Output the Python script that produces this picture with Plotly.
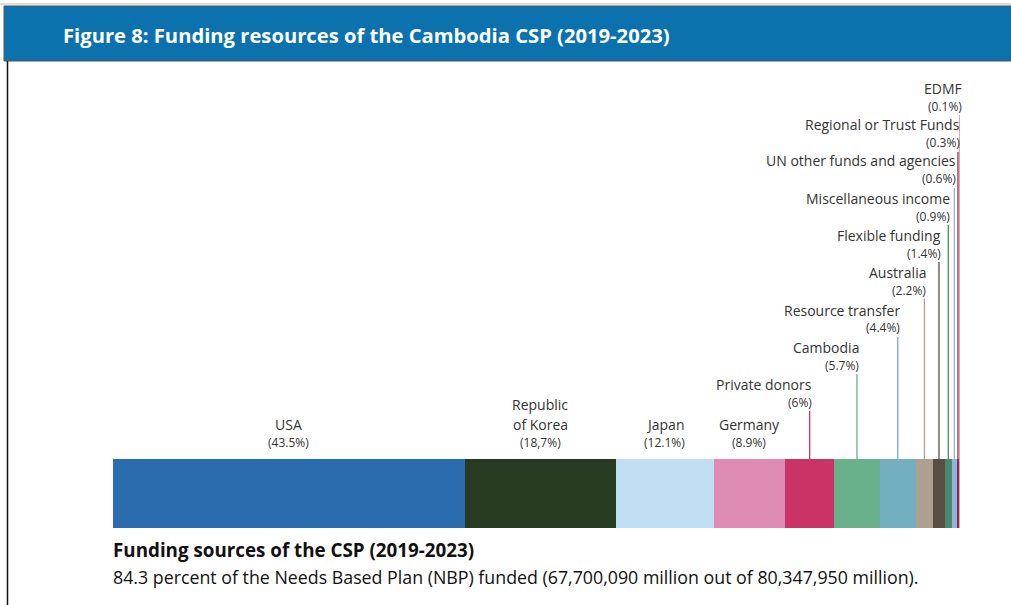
import plotly.graph_objects as go

# Funding sources and their shares of the CSP
sources = ["USA", "Republic of Korea", "Japan", "Germany", "Private donors", "Cambodia",
           "Resource transfer", "Australia", "Flexible funding", "Miscellaneous income",
           "UN other funds and agencies", "Regional or Trust Funds", "EDMF"]
shares = [43.5, 18.7, 12.1, 8.9, 6.0, 5.7, 4.4, 2.2, 1.4, 0.9, 0.6, 0.3, 0.1]
share_labels = ["(43.5%)", "(18,7%)", "(12.1%)", "(8.9%)", "(6%)", "(5.7%)", "(4.4%)",
                "(2.2%)", "(1.4%)", "(0.9%)", "(0.6%)", "(0.3%)", "(0.1%)"]
colors = ["#2b6caf", "#263b22", "#c0dff3", "#de8cb4", "#cb3366", "#68b18b", "#74aec1",
          "#ae9f90", "#5a4d41", "#4b8a6b", "#8fb5df", "#8b2c4c", "#eaa2ad"]

W, H = 1011, 605
X0, X1 = 113, 960          # bar pixel extent
BAR_TOP, BAR_BOT = 459, 528
NAME_SIZE, PCT_SIZE = 14, 12
text_col = "#333333"


def py(p):
    """pixel row -> paper y"""
    return 1 - p / H


def txt(x, ypx, text, size, anchor, xshift=0):
    return dict(x=x, y=py(ypx), xref="x", yref="paper", text=text, showarrow=False,
                font=dict(size=size, color=text_col), xanchor=anchor, yanchor="middle",
                xshift=xshift, borderpad=0, borderwidth=0)


total = sum(shares)
fig = go.Figure()
for name, v, c in zip(sources, shares, colors):
    fig.add_trace(go.Bar(y=[0], x=[v], orientation="h", name=name,
                         marker=dict(color=c, line=dict(width=0)), showlegend=False,
                         hoverinfo="name+x"))

# segment centres in data units
centres = []
acc = 0
for v in shares:
    centres.append(acc + v / 2)
    acc += v

ann = []
shapes = []

# labels sitting directly above the wide segments
for i in (0, 2, 3):
    ann.append(txt(centres[i], 424, sources[i], NAME_SIZE, "center"))
    ann.append(txt(centres[i], 442, share_labels[i], PCT_SIZE, "center"))
ann.append(txt(centres[1], 404.5, "Republic", NAME_SIZE, "center"))
ann.append(txt(centres[1], 424, "of Korea", NAME_SIZE, "center"))
ann.append(txt(centres[1], 442, share_labels[1], PCT_SIZE, "center"))

# staggered labels with leader lines for the narrower segments (name row in px)
stagger = {4: 384, 5: 347, 6: 310, 7: 272, 8: 235, 9: 198, 10: 161, 11: 125, 12: 88}
for i, yn in stagger.items():
    ann.append(txt(centres[i], yn, sources[i], NAME_SIZE, "right", 2))
    ann.append(txt(centres[i], yn + 18, share_labels[i], PCT_SIZE, "right", 2))
    shapes.append(dict(type="line", xref="x", yref="paper", x0=centres[i], x1=centres[i],
                       y0=py(BAR_TOP), y1=py(yn + 27), line=dict(color=colors[i], width=1.3)))

# header band and frame
shapes += [
    dict(type="rect", xref="paper", yref="paper", x0=4 / W, x1=1, y0=py(61), y1=py(6),
         fillcolor="#0b72ae", line=dict(color="#555555", width=1), layer="below"),
    dict(type="line", xref="paper", yref="paper", x0=0, x1=1, y0=py(4), y1=py(4),
         line=dict(color="#bbbbbb", width=1)),
    dict(type="line", xref="paper", yref="paper", x0=7.5 / W, x1=7.5 / W, y0=0, y1=py(61),
         line=dict(color="#111111", width=1.5)),
]
ann.append(dict(x=61 / W, y=py(35), xref="paper", yref="paper", xanchor="left", yanchor="middle",
                text="<b>Figure 8: Funding resources of the Cambodia CSP (2019-2023)</b>",
                showarrow=False, font=dict(size=20.2, color="white", family="Open Sans")))
ann.append(dict(x=111 / W, y=py(550), xref="paper", yref="paper", xanchor="left", yanchor="middle",
                text="<b>Funding sources of the CSP (2019-2023)</b>",
                showarrow=False, font=dict(size=18.8, color="#111111")))
ann.append(dict(x=111 / W, y=py(577), xref="paper", yref="paper", xanchor="left", yanchor="middle",
                text="84.3 percent of the Needs Based Plan (NBP) funded (67,700,090 million out of 80,347,950 million).",
                showarrow=False, font=dict(size=17.8, color="#111111")))

fig.update_layout(
    width=W, height=H, margin=dict(l=0, r=0, t=0, b=0),
    paper_bgcolor="white", plot_bgcolor="white",
    barmode="stack", bargap=0,
    font=dict(family="Open Sans", color=text_col),
    xaxis=dict(domain=[X0 / W, X1 / W], range=[0, total], visible=False, fixedrange=True),
    yaxis=dict(domain=[py(BAR_BOT), py(BAR_TOP)], range=[-0.5, 0.5], visible=False, fixedrange=True),
    shapes=shapes, annotations=ann,
)

fig.write_html("out.html")
